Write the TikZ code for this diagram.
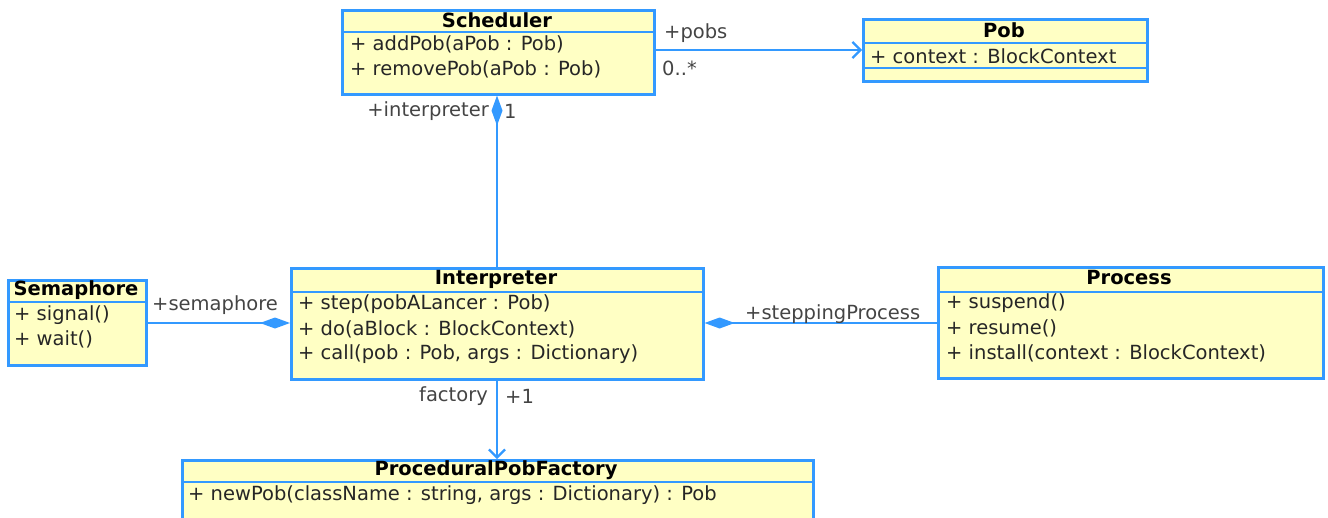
\documentclass[tikz,border=0pt]{standalone}
\usepackage{fontspec}
\setmainfont{DejaVu Sans}
\usetikzlibrary{arrows.meta}
\definecolor{umlblue}{HTML}{3399FF}
\definecolor{umlfill}{HTML}{FFFFC4}
\definecolor{lblgray}{HTML}{444444}
\tikzset{
  classbox/.style={draw=umlblue, fill=umlfill, line width=2.6pt, inner sep=0pt, anchor=north west},
  divider/.style={draw=umlblue, line width=2.4pt},
  ctitle/.style={font=\fontsize{19.5}{22}\selectfont\bfseries, inner sep=0pt, text=black},
  member/.style={font=\fontsize{19.5}{22}\selectfont, inner sep=0pt, anchor=west, text=black!85},
  conn/.style={draw=umlblue, line width=2.2pt},
  lbl/.style={font=\fontsize{19.5}{22}\selectfont, inner sep=0pt, text=lblgray},
  comp/.style={{Diamond[length=30pt,width=11pt]}-},
  nav/.style={-{Straight Barb[length=8pt,width=16pt]}}
}
\begin{document}
\begin{tikzpicture}[x=1pt,y=-1pt]
\useasboundingbox (0,0) rectangle (1328,517);
\clip (0,0) rectangle (1328,517);
% Scheduler
\node[classbox, minimum width=312pt, minimum height=84pt] (sched) at (341,9) {};
\node[ctitle] (schedt) at (497,20) {Scheduler};
\draw[divider] (341,32) -- (653,32);
\node[member] (sched1) at (350,44) {+ addPob(aPob : Pob)};
\node[member] (sched2) at (350,69) {+ removePob(aPob : Pob)};
% Pob
\node[classbox, minimum width=284pt, minimum height=62pt] (pob) at (862,18) {};
\node[ctitle] (pobt) at (1004,30) {Pob};
\draw[divider] (862,43) -- (1146,43);
\node[member] (pob1) at (870,56) {+ context : BlockContext};
\draw[divider] (862,68) -- (1146,68);
% Semaphore
\node[classbox, minimum width=138pt, minimum height=85pt] (sem) at (7,279) {};
\node[ctitle] (semt) at (76,290) {Semaphore};
\draw[divider] (7,302) -- (145,302);
\node[member] (sem1) at (14,315) {+ signal()};
\node[member] (sem2) at (14,339) {+ wait()};
% Interpreter
\node[classbox, minimum width=412pt, minimum height=111pt] (interp) at (290,267) {};
\node[ctitle] (interpt) at (496,279) {Interpreter};
\draw[divider] (290,292) -- (702,292);
\node[member] (interp1) at (298,304) {+ step(pobALancer : Pob)};
\node[member] (interp2) at (298,329) {+ do(aBlock : BlockContext)};
\node[member] (interp3) at (298,354) {+ call(pob : Pob, args : Dictionary)};
% Process
\node[classbox, minimum width=385pt, minimum height=111pt] (proc) at (937,266) {};
\node[ctitle] (proct) at (1129,278) {Process};
\draw[divider] (937,292) -- (1322,292);
\node[member] (proc1) at (946,303) {+ suspend()};
\node[member] (proc2) at (946,328) {+ resume()};
\node[member] (proc3) at (946,353) {+ install(context : BlockContext)};
% ProceduralPobFactory
\node[classbox, minimum width=631pt, minimum height=80pt] (ppf) at (181,459) {};
\node[ctitle] (ppft) at (496,470) {ProceduralPobFactory};
\draw[divider] (181,482) -- (812,482);
\node[member] (ppf1) at (188,495) {+ newPob(className : string, args : Dictionary) : Pob};
% connectors
\draw[conn, nav] (sched.east |- 0,50) -- (pob.west |- 0,50);
\node[lbl, anchor=west] (l1) at (664,33) {+pobs};
\node[lbl, anchor=west] (l2) at (662,68) {0..*};
\draw[conn, comp] (sched.south -| 497,0) -- (interp.north -| 497,0);
\node[lbl, anchor=east] (l3) at (489,111) {+interpreter};
\node[lbl, anchor=west] (l4) at (504,111) {1};
\draw[conn, comp] (interp.west |- 0,323) -- (sem.east |- 0,323);
\node[lbl, anchor=west] (l5) at (152,305) {+semaphore};
\draw[conn, comp] (interp.east |- 0,323) -- (proc.west |- 0,323);
\node[lbl, anchor=west] (l6) at (745,314) {+steppingProcess};
\draw[conn, nav] (interp.south -| 497,0) -- (ppf.north -| 497,0);
\node[lbl, anchor=east] (l7) at (488,396) {factory};
\node[lbl, anchor=west] (l8) at (505,396) {+1};
\end{tikzpicture}
\end{document}
